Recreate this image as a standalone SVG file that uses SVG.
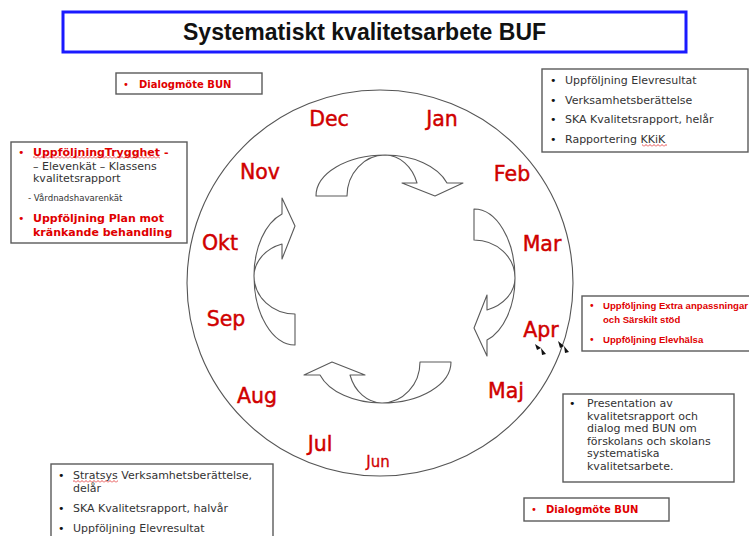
<svg xmlns="http://www.w3.org/2000/svg" width="749" height="536" viewBox="0 0 749 536">
<style>
  .box{fill:#fff;stroke:#5a5a5a;stroke-width:1.4}
  .month{font-family:"DejaVu Sans",Verdana,sans-serif;font-size:20.5px;fill:#d00000;stroke:#d00000;stroke-width:0.45;text-anchor:middle}
  .t{font-family:"DejaVu Sans",Verdana,sans-serif;font-size:11px;fill:#333}
  .r{font-family:"DejaVu Sans",Verdana,sans-serif;font-size:11px;fill:#e00000;font-weight:bold}
  .rn{font-family:"Liberation Sans",Arial,sans-serif;font-size:9.6px;fill:#e00000;font-weight:bold}
  .bk{font-family:"DejaVu Sans",sans-serif;font-size:11px;fill:#111}
  .br{font-family:"DejaVu Sans",sans-serif;font-size:11px;fill:#e00000}
  .arr{fill:#fff;stroke:#5a5a5a;stroke-width:1.1;stroke-linejoin:round}
</style>
<defs>
  <path id="curved" d="M-69,0 A69,41 0 0 1 0,-41 A65,41 0 0 1 62,-13 L78,-13 L50,0 L17,-13 L32,-13 A34,41 0 0 0 0,-41 A38,41 0 0 0 -38,0 Z"/>
  <pattern id="squig" width="4" height="3" patternUnits="userSpaceOnUse">
    <path d="M0,2.5 L2,0.5 L4,2.5" fill="none" stroke="#e02020" stroke-width="0.8"/>
  </pattern>
</defs>
<rect width="749" height="536" fill="#fff"/>

<g id="title">
  <rect x="63" y="12" width="623" height="40" fill="#fff" stroke="#1a1aff" stroke-width="3"/>
  <text x="183" y="40" font-family="Liberation Sans,Arial,sans-serif" font-weight="bold" font-size="23" fill="#111">Systematiskt kvalitetsarbete BUF</text>
</g>

<g id="wheel">
  <circle cx="380" cy="283" r="193" fill="none" stroke="#555" stroke-width="1.1"/>
</g>

<g id="connectors">
  <use href="#curved" class="arr" transform="translate(385,196)"/>
  <use href="#curved" class="arr" transform="translate(474,278) rotate(90)"/>
  <use href="#curved" class="arr" transform="translate(382,362) rotate(180)"/>
  <use href="#curved" class="arr" transform="translate(295,276) rotate(-90)"/>
</g>

<g id="months">
  <text class="month" x="329" y="126">Dec</text>
  <text class="month" x="442" y="126">Jan</text>
  <text class="month" x="260" y="179">Nov</text>
  <text class="month" x="512" y="181">Feb</text>
  <text class="month" x="220" y="250">Okt</text>
  <text class="month" x="542" y="251">Mar</text>
  <text class="month" x="226" y="326">Sep</text>
  <text class="month" x="541" y="337">Apr</text>
  <text class="month" x="257" y="403">Aug</text>
  <text class="month" x="506" y="398">Maj</text>
  <text class="month" x="320" y="451">Jul</text>
  <text class="month" x="378" y="467" style="font-size:15px;stroke-width:0.3">Jun</text>
</g>

<g id="apr-markers" fill="#111">
  <path d="M535,344 L541,348 L537,350 Z M541,348 L546,354 L542,355 Z"/>
  <path d="M558,341 L564,346 L560,348 Z M564,346 L569,352 L565,353 Z"/>
</g>

<g id="box-dialog-top">
  <rect class="box" x="116" y="73" width="146" height="21"/>
  <text class="br" x="123" y="88" style="font-size:10px">•</text>
  <text class="r" x="139" y="88" style="font-size:10px">Dialogmöte BUN</text>
</g>

<g id="box-left">
  <rect class="box" x="11" y="142" width="176" height="101"/>
  <text class="br" x="18" y="156">•</text>
  <text class="r" x="33" y="156">UppföljningTrygghet -</text>
  <rect x="33" y="156" width="127" height="3" fill="url(#squig)"/>
  <text class="t" x="33" y="170">– Elevenkät – Klassens</text>
  <text class="t" x="33" y="182">kvalitetsrapport</text>
  <text class="t" x="28" y="201" style="font-size:8.6px">- Vårdnadshavarenkät</text>
  <text class="br" x="18" y="222">•</text>
  <text class="r" x="33" y="222">Uppföljning Plan mot</text>
  <text class="r" x="33" y="236">kränkande behandling</text>
</g>

<g id="box-top-right">
  <rect class="box" x="542" y="69" width="206" height="83"/>
  <text class="bk" x="550" y="84">•</text>
  <text class="t" x="565" y="84">Uppföljning Elevresultat</text>
  <text class="bk" x="550" y="104">•</text>
  <text class="t" x="565" y="104">Verksamhetsberättelse</text>
  <text class="bk" x="550" y="123">•</text>
  <text class="t" x="565" y="123">SKA Kvalitetsrapport, helår</text>
  <text class="bk" x="550" y="143">•</text>
  <text class="t" x="565" y="143">Rapportering KKiK</text>
  <rect x="642" y="144" width="25" height="3" fill="url(#squig)"/>
</g>

<g id="box-right-mid">
  <rect class="box" x="582" y="296" width="180" height="55"/>
  <text class="br" x="589" y="309" style="font-size:9.6px">•</text>
  <text class="rn" x="603" y="309">Uppföljning Extra anpassningar</text>
  <text class="rn" x="603" y="323">och Särskilt stöd</text>
  <text class="br" x="589" y="343" style="font-size:9.6px">•</text>
  <text class="rn" x="603" y="343">Uppföljning Elevhälsa</text>
</g>

<g id="box-bottom-right">
  <rect class="box" x="563" y="394" width="171" height="88"/>
  <text class="bk" x="569" y="407">•</text>
  <text class="t" x="587" y="407">Presentation av</text>
  <text class="t" x="587" y="419.5">kvalitetsrapport och</text>
  <text class="t" x="587" y="432">dialog med BUN om</text>
  <text class="t" x="587" y="444.5">förskolans och skolans</text>
  <text class="t" x="587" y="457">systematiska</text>
  <text class="t" x="587" y="470">kvalitetsarbete.</text>
</g>

<g id="box-dialog-bottom">
  <rect class="box" x="524" y="498" width="145" height="23"/>
  <text class="br" x="531" y="513" style="font-size:10px">•</text>
  <text class="r" x="546" y="513" style="font-size:10px">Dialogmöte BUN</text>
</g>

<g id="box-bottom-left">
  <rect class="box" x="51" y="464" width="222" height="80"/>
  <text class="bk" x="58" y="479">•</text>
  <text class="t" x="73" y="479">Stratsys Verksamhetsberättelse,</text>
  <rect x="73" y="480" width="45" height="3" fill="url(#squig)"/>
  <text class="t" x="73" y="492">delår</text>
  <text class="bk" x="58" y="512">•</text>
  <text class="t" x="73" y="512">SKA Kvalitetsrapport, halvår</text>
  <text class="bk" x="58" y="532">•</text>
  <text class="t" x="73" y="532">Uppföljning Elevresultat</text>
</g>
</svg>
